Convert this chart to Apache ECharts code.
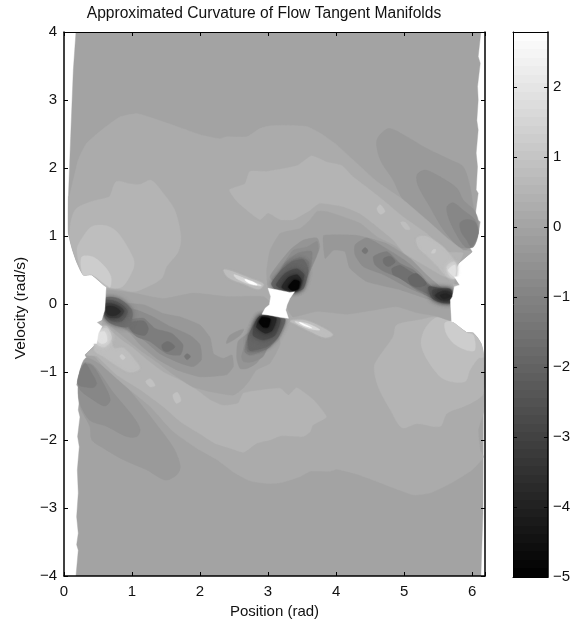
<!DOCTYPE html>
<html><head><meta charset="utf-8"><style>html,body{margin:0;padding:0;background:#fff}#c{width:581px;height:624px}</style>
<script src="https://cdn.jsdelivr.net/npm/echarts@6/dist/echarts.min.js"></script></head><body><div id="c"></div><script>
const xMax=6.19, barMin=-5, barMax=2.786, barSteps=64;
// Contour regions in data units: position (rad), velocity (rad/s)
const fieldEdge=[[.176,4],[.137,3.44],[.098,2.46],[.065,1.58],[.064,1.04],[.127,.79],[.186,.62],[.284,.43],[.407,.43],[.618,.25],[.6,-.09],[.554,-.235],[.48,-.27],[.56,-.33],[.505,-.43],[.48,-.58],[.31,-.75],[.343,-.82],[.235,-.97],[.186,-1.19],[.245,-1.26],[.21,-1.56],[.235,-1.66],[.2,-1.95],[.225,-2.1],[.196,-2.44],[.21,-2.78],[.186,-3.13],[.21,-3.37],[.186,-3.54],[.21,-3.62],[.176,-4],[6.13,-4],[6.15,-3.37],[6.16,-3.08],[6.17,-.78],[6.13,-.58],[6.02,-.43],[5.92,-.42],[5.7,-.26],[5.68,.06],[5.71,.108],[5.74,.255],[5.82,.28],[5.74,.4],[5.77,.57],[6.0,.77],[5.96,.84],[6.09,1.04],[6.12,1.21],[6.04,1.26],[6.09,1.63],[6.06,1.68],[6.08,2.02],[6.06,2.22],[6.09,2.56],[6.07,2.7],[6.09,3.0],[6.08,3.2],[6.12,3.54],[6.09,3.64],[6.13,4]];
const lobeUp1=[[4.6,2.41],[4.77,2.58],[4.99,2.49],[5.33,2.29],[5.68,2.12],[5.87,2.02],[5.97,1.73],[6.02,1.43],[6.09,1.24],[6.09,1.04],[5.97,.84],[5.87,.79],[5.67,.94],[5.33,1.24],[4.99,1.53],[4.84,1.82],[4.65,2.12]];
const lobeUp2=[[5.19,1.9],[5.31,1.97],[5.53,1.87],[5.78,1.7],[5.87,1.53],[6.04,1.36],[6.09,1.04],[5.97,.84],[5.82,.84],[5.58,1.09],[5.38,1.43],[5.21,1.73]];
const lobeUp3=[[5.63,1.43],[5.72,1.49],[5.87,1.38],[6.04,1.24],[6.09,1.04],[6.02,.84],[5.9,.84],[5.75,1.06],[5.65,1.28]];
const lobeUp4=[[5.82,1.19],[5.9,1.24],[6.04,1.21],[6.09,1.04],[5.99,.84],[5.92,.94],[5.84,1.06]];
const lobeLo1=[[1.49,-2.59],[1.66,-2.51],[1.71,-2.39],[1.63,-2.15],[1.46,-1.9],[.92,-1.22],[.58,-.92],[.31,-.8],[.21,-1.22],[.235,-1.51],[.38,-1.8],[.41,-2.0],[.58,-2.12],[.87,-2.29],[1.22,-2.44]];
const lobeLo2=[[1.12,-1.85],[1.07,-1.95],[.92,-1.95],[.63,-1.8],[.38,-1.71],[.235,-1.46],[.21,-1.17],[.28,-.87],[.43,-.9],[.73,-1.31],[1.02,-1.66]];
const lobeLo3=[[.68,-1.41],[.6,-1.5],[.43,-1.41],[.235,-1.26],[.21,-1.12],[.28,-.9],[.41,-.9],[.58,-1.17]];
const lobeLo4=[[.48,-1.17],[.43,-1.23],[.21,-1.19],[.21,-1.07],[.31,-.87],[.41,-1.02]];
const midPlateau=[[.08,1.58],[.21,2.12],[.33,2.36],[.58,2.58],[.82,2.75],[1.07,2.8],[1.31,2.73],[1.66,2.61],[2.0,2.49],[2.29,2.43],[2.39,2.46],[2.69,2.46],[2.88,2.58],[3.03,2.62],[3.27,2.63],[3.57,2.61],[3.77,2.51],[4.01,2.34],[4.25,2.12],[4.6,1.8],[4.99,1.53],[5.33,1.24],[5.67,.94],[5.87,.79],[6.0,.77],[5.77,.57],[5.74,.4],[5.74,.255],[5.71,.108],[5.68,.06],[5.7,-.26],[5.92,-.42],[6.02,-.43],[6.13,-.58],[6.17,-.78],[6.17,-1.58],[6.09,-1.85],[6.12,-2.15],[6.17,-2.25],[6.0,-2.44],[5.68,-2.64],[5.38,-2.78],[5.14,-2.81],[4.94,-2.74],[4.6,-2.61],[4.3,-2.5],[4.01,-2.43],[3.91,-2.46],[3.62,-2.46],[3.47,-2.54],[3.18,-2.63],[2.98,-2.64],[2.73,-2.6],[2.49,-2.47],[2.25,-2.29],[1.95,-2.12],[1.61,-1.88],[1.27,-1.51],[.92,-1.22],[.58,-.92],[.43,-.75],[.31,-.75],[.48,-.58],[.5,-.43],[.555,-.235],[.6,-.09],[.618,.25],[.407,.43],[.284,.43],[.186,.62],[.127,.79],[.064,1.04],[.065,1.58]];
const plateauLeft=[[.68,1.6],[.77,1.8],[.97,1.77],[1.12,1.76],[1.28,1.82],[1.46,1.63],[1.63,1.38],[1.72,.99],[1.68,.77],[1.51,.55],[1.44,.38],[1.22,.25],[1.02,.18],[.77,.23],[.63,.25],[.41,.43],[.28,.43],[.13,.79],[.08,1.04],[.16,1.38],[.38,1.5],[.65,1.57]];
const plateauRight=[[4.97,-1.82],[5.19,-1.76],[5.53,-1.8],[5.63,-1.61],[5.87,-1.51],[6.07,-1.41],[6.17,-1.31],[6.17,-.78],[6.13,-.58],[6.02,-.43],[5.92,-.42],[5.7,-.26],[5.48,-.19],[5.19,-.24],[4.89,-.31],[4.84,-.48],[4.65,-.75],[4.56,-.92],[4.62,-1.22],[4.8,-1.56]];
const domeLeft=[[.41,1.14],[.63,1.15],[.8,1.04],[1.02,.67],[1.02,.52],[.85,.25],[.63,.25],[.41,.43],[.28,.43],[.19,.8],[.28,.99]];
const domeRight=[[5.25,-.58],[5.33,-.8],[5.53,-1.07],[5.68,-1.14],[5.9,-1.14],[5.97,-.97],[6.09,-.8],[6.17,-.78],[6.13,-.58],[6.02,-.43],[5.92,-.42],[5.7,-.26],[5.48,-.2],[5.31,-.36]];
const capLeft=[[.26,.69],[.43,.69],[.6,.55],[.69,.4],[.68,.25],[.62,.28],[.41,.43],[.28,.43]];
const capRight=[[5.6,-.28],[5.62,-.43],[5.73,-.58],[5.92,-.68],[6.04,-.68],[6.02,-.46],[5.92,-.42],[5.7,-.26]];
const wedgeUp=[[2.43,1.68],[2.66,1.77],[2.73,1.95],[2.98,1.95],[3.27,2.0],[3.44,2.04],[3.64,2.18],[3.86,2.09],[4.08,2.04],[4.25,1.87],[4.5,1.68],[4.69,1.53],[4.99,1.28],[5.33,1.04],[5.63,.77],[5.87,.75],[5.75,.5],[5.6,.4],[5.33,.55],[5.0,.75],[4.84,.94],[4.6,1.14],[4.35,1.33],[4.11,1.43],[3.76,1.48],[3.62,1.38],[3.37,1.24],[3.18,1.24],[3.0,1.34],[2.88,1.24],[2.55,1.5]];
const wedgeLo=[[.55,-.31],[.63,-.33],[.73,-.43],[.85,-.53],[1.02,-.65],[1.22,-.82],[1.46,-1.0],[1.71,-1.12],[1.95,-1.26],[2.15,-1.41],[2.34,-1.49],[2.56,-1.46],[2.64,-1.31],[2.93,-1.26],[3.18,-1.24],[3.3,-1.34],[3.42,-1.23],[3.67,-1.41],[3.86,-1.66],[3.66,-1.78],[3.62,-1.88],[3.52,-1.95],[3.18,-1.94],[3.03,-2.0],[2.83,-2.05],[2.64,-2.18],[2.44,-2.12],[2.22,-2.05],[1.95,-1.88],[1.71,-1.73],[1.46,-1.51],[1.12,-1.26],[.77,-1.04],[.48,-.77],[.33,-.75],[.48,-.58],[.5,-.43]];
const bandUp2=[[3.03,.79],[3.18,1.04],[3.47,1.11],[3.62,1.24],[3.72,1.36],[3.86,1.36],[4.11,1.28],[4.35,1.19],[4.6,.99],[4.89,.84],[5.14,.6],[5.33,.4],[5.58,.23],[5.73,.21],[5.7,.01],[5.68,-.24],[5.48,-.18],[5.19,-.13],[4.89,-.04],[4.5,-.1],[4.16,-.15],[3.72,-.11],[3.37,-.19],[3.3,-.1],[3.2,.2],[3.0,.25],[2.98,.5]];
const bandLo2=[[.6,.2],[1.02,.16],[1.46,.08],[1.9,.16],[2.39,.11],[2.93,.11],[3.05,0],[3.1,-.3],[3.18,-.58],[3.03,-.87],[2.83,-.97],[2.73,-1.12],[2.64,-1.23],[2.49,-1.34],[2.15,-1.29],[1.9,-1.22],[1.61,-1.04],[1.36,-.85],[1.12,-.68],[.9,-.5],[.73,-.36],[.6,-.24]];
const bandUpA=[[3.82,1.01],[4.3,1.01],[4.74,.89],[5.09,.67],[5.33,.43],[5.58,.21],[5.7,.11],[5.68,-.01],[5.33,.08],[4.94,.21],[4.45,.33],[4.2,.53],[4.13,.77],[3.96,.79],[3.84,.67],[3.81,.92]];
const bandLoA=[[1.17,-.01],[1.46,-.14],[1.71,-.19],[2.0,-.31],[2.15,-.5],[2.2,-.73],[2.34,-.8],[2.47,-.75],[2.49,-.92],[2.39,-1.04],[2.0,-1.07],[1.66,-.97],[1.36,-.8],[1.12,-.6],[.97,-.43],[.8,-.3],[.7,0]];
const bandUpB=[[4.28,.87],[4.45,.97],[4.7,.84],[5.0,.65],[5.24,.45],[5.43,.23],[5.68,.13],[5.68,.01],[5.36,.11],[5.04,.25],[4.7,.43],[4.4,.55],[4.28,.72]];
const bandLoB=[[1.07,-.09],[1.31,-.19],[1.56,-.33],[1.85,-.46],[2.0,-.6],[2.02,-.82],[1.9,-.92],[1.71,-.87],[1.41,-.73],[1.17,-.53],[.97,-.41],[.85,-.3],[.8,-.05]];
const bandUpC=[[4.55,.7],[4.75,.77],[4.94,.6],[5.14,.5],[5.33,.32],[5.53,.16],[5.68,.11],[5.68,.02],[5.43,.08],[5.18,.21],[4.94,.38],[4.7,.48],[4.57,.58]];
const bandLoC=[[.95,-.24],[1.17,-.21],[1.34,-.36],[1.58,-.43],[1.75,-.6],[1.71,-.75],[1.51,-.73],[1.26,-.55],[1.07,-.48],[.95,-.36]];
const bandUpD=[[4.82,.52],[4.94,.57],[5.09,.48],[5.28,.35],[5.41,.23],[5.68,.11],[5.68,.03],[5.43,.11],[5.18,.23],[4.94,.38],[4.84,.43]];
const bandUpD2=[[4.7,.67],[4.8,.7],[4.87,.62],[4.77,.55],[4.7,.6]];
const bandLoD=[[.95,-.28],[1.17,-.25],[1.24,-.36],[1.19,-.46],[1.04,-.43],[.97,-.36]];
const bandLoD2=[[1.44,-.6],[1.53,-.55],[1.63,-.63],[1.53,-.7],[1.46,-.68]];
const bandUpE=[[5.06,.38],[5.18,.45],[5.33,.3],[5.23,.25],[5.11,.28]];
const spotUp=[[4.38,.78],[4.43,.83],[4.47,.78],[4.43,.74]];
const spotLo=[[1.77,-.77],[1.81,-.73],[1.86,-.77],[1.81,-.82]];
const coreUp=[[[5.36,.25],[5.53,.23],[5.69,.21],[5.69,.02],[5.43,.07]],[[5.42,.2],[5.58,.21],[5.69,.19],[5.69,.04],[5.46,.08]],[[5.46,.13],[5.58,.19],[5.69,.16],[5.69,.07],[5.55,.06]],[[5.53,.13],[5.63,.15],[5.68,.11],[5.58,.08]]];
const coreUpLevels=[-2.4,-2.9,-3.5,-3.9];
const coreLo=[[[.6,.08],[.8,.08],[1.0,-.1],[.95,-.33],[.72,-.3],[.6,-.2]],[[.6,.05],[.78,.03],[.93,-.1],[.85,-.25],[.66,-.22]],[[.6,0],[.76,-.01],[.88,-.1],[.8,-.2],[.63,-.18]],[[.62,-.04],[.74,-.04],[.83,-.11],[.75,-.17],[.64,-.15]]];
const coreLoLevels=[-1.6,-2.2,-3,-3.7];
const sectorLevels=[-.45,-.7,-1.0,-1.35,-1.9,-2.7,-3.8,-4.85];
const sectorUp=[[[3.03,.4],[3.32,.79],[3.52,.94],[3.72,.97],[3.76,.84],[3.67,.6],[3.52,.3],[3.42,.18],[3.18,.25]],[[3.18,.5],[3.37,.79],[3.57,.84],[3.72,.92],[3.74,.79],[3.62,.5],[3.52,.3],[3.42,.21],[3.13,.3]],[[3.25,.6],[3.45,.75],[3.64,.77],[3.62,.55],[3.49,.3],[3.4,.21],[3.12,.25]],[[3.25,.57],[3.47,.68],[3.6,.62],[3.57,.42],[3.5,.22],[3.1,.23]],[[3.05,.3],[3.18,.48],[3.35,.62],[3.52,.65],[3.59,.5],[3.52,.23],[3.4,.18],[3.1,.22]],[[3.12,.28],[3.25,.45],[3.42,.52],[3.53,.43],[3.47,.23],[3.4,.18],[3.23,.21]],[[3.2,.25],[3.3,.39],[3.43,.43],[3.49,.35],[3.45,.22],[3.37,.2],[3.25,.21]],[[3.3,.25],[3.38,.35],[3.46,.33],[3.44,.22],[3.36,.2]]];
const sectorLo=[[[2.54,-.8],[2.56,-.55],[2.73,-.41],[2.83,-.31],[3.03,-.28],[3.08,-.43],[2.93,-.73],[2.83,-.87],[2.69,-.95],[2.59,-.95]],[[2.61,-.77],[2.69,-.53],[2.83,-.36],[3.03,-.31],[3.05,-.48],[2.93,-.77],[2.78,-.85],[2.64,-.85]],[[2.66,-.7],[2.72,-.46],[2.86,-.28],[3.18,-.3],[3.1,-.5],[2.93,-.68],[2.73,-.75]],[[2.7,-.7],[2.72,-.46],[2.84,-.25],[3.22,-.26],[3.15,-.48],[2.98,-.66]],[[2.88,-.18],[3.25,-.22],[3.15,-.48],[2.98,-.63],[2.73,-.68],[2.71,-.48],[2.81,-.28]],[[2.88,-.18],[3.18,-.22],[3.1,-.46],[2.93,-.53],[2.78,-.46],[2.81,-.28]],[[2.91,-.18],[3.12,-.21],[3.06,-.39],[2.96,-.43],[2.83,-.34]],[[2.91,-.2],[3.03,-.22],[3,-.34],[2.93,-.34],[2.87,-.27]]];
const sectorBlur=[0,0,1,2,4,5,5,3];
const stripeLo=[[2.39,-.58],[2.44,-.46],[2.64,-.37],[2.59,-.46]];
const glowUp=[[[5.19,.97],[5.33,.99],[5.53,.87],[5.65,.75],[5.77,.57],[5.75,.38],[5.63,.4],[5.5,.55],[5.33,.72],[5.21,.84]],[[5.63,.55],[5.73,.62],[5.77,.57],[5.75,.38],[5.68,.4]],[[5.65,.5],[5.75,.57],[5.75,.4],[5.7,.43]]];
const glowLo=[[[.45,-.68],[.5,-.43],[.63,-.33],[.73,-.65],[.87,-.65],[1.02,-.8],[1.11,-.95],[.97,-1.0],[.77,-.9],[.58,-.77]],[[.48,-.58],[.5,-.41],[.63,-.36],[.7,-.5],[.6,-.63]],[[.5,-.43],[.6,-.41],[.63,-.55],[.55,-.58],[.49,-.53]]];
const glowLevels=[.8,1.26,1.87];
const glowBlur=[2,4,4];
const flecks=[[[5.4,.75],[5.43,.8],[5.47,.8],[5.45,.75]],[[4.6,1.4],[4.65,1.46],[4.72,1.36],[4.65,1.32]],[[4.95,1.2],[5.02,1.2],[5.09,1.1],[5.02,1.1]],[[.82,-.77],[.85,-.74],[.9,-.79],[.86,-.82]],[[1.2,-1.14],[1.27,-1.1],[1.34,-1.2],[1.27,-1.22]],[[1.6,-1.34],[1.67,-1.3],[1.72,-1.42],[1.65,-1.46]]];
const fleckLevels=[1.2,.9,.8,1.2,.9,.9];
const nubs=[[[5.72,.29],[5.82,.28],[5.8,.24],[5.72,.24]],[[.48,-.27],[.56,-.25],[.56,-.3],[.48,-.3]]];
const streaks=[[[2.35,.5],[2.49,.47],[2.74,.37],[2.93,.29],[2.86,.22],[2.64,.3],[2.42,.39]],[[2.5,.43],[2.74,.34],[2.9,.27],[2.74,.29],[2.55,.37]],[[2.66,.36],[2.78,.32],[2.84,.28],[2.72,.31]],[[3.33,-.25],[3.52,-.24],[3.72,-.31],[3.95,-.45],[3.84,-.49],[3.62,-.4],[3.42,-.3]],[[3.4,-.26],[3.58,-.29],[3.76,-.38],[3.6,-.36],[3.46,-.3]],[[3.46,-.27],[3.58,-.32],[3.64,-.35],[3.52,-.31]]];
const streakLevels=[.8,1.6,2.786,.8,1.6,2.786];
const notchLeft=[[.618,.25],[.6,-.09],[.554,-.235],[.48,-.27],[.56,-.33],[.505,-.43],[.48,-.58],[.2,-.58],[.2,.25]];
const notchRight=[[5.7,-.26],[5.68,.06],[5.71,.108],[5.74,.255],[5.82,.28],[5.74,.4],[6.0,.4],[6.0,-.26]];
const hole=[[3.0,.23],[3.13,.21],[3.32,.17],[3.39,.18],[3.32,.08],[3.28,-.01],[3.26,-.09],[3.3,-.21],[3.2,-.2],[3.0,-.16],[2.91,-.15],[2.96,-.06],[3.02,-.01],[3.04,.11]];

const regions=[];
const add=(level,pts,smooth,blur)=>regions.push({level,pts,smooth:smooth===undefined?0.3:smooth,blur:blur||0});
add(-.02,fieldEdge,0);
add(-.3,lobeUp1);add(-.3,lobeLo1);add(-.57,lobeUp2);add(-.57,lobeLo2);add(-.88,lobeUp3);add(-.88,lobeLo3);add(-1.18,lobeUp4);add(-1.18,lobeLo4);
add(.22,midPlateau,0.15);
add(.5,plateauLeft);add(.5,plateauRight);add(.8,domeLeft);add(.8,domeRight);add(1.25,capLeft);add(1.25,capRight);
add(.5,wedgeUp,.15);add(.5,wedgeLo,.15);
nubs.forEach(n=>add(.5,n,0));
add(-.02,bandUp2,.15);add(-.02,bandLo2,.15);add(-.36,bandUpA,.15);add(-.36,bandLoA,.15);
sectorLevels.forEach((l,i)=>{add(l,sectorUp[i],.2,sectorBlur[i]);add(l,sectorLo[i],.2,sectorBlur[i]);});
add(-.45,stripeLo);
add(-.72,bandUpB,.2);add(-.72,bandLoB,.2);add(-1.18,bandUpC,.2);add(-1.18,bandLoC,.2);add(-1.58,bandUpD,.2);add(-1.58,bandUpD2);add(-1.58,bandLoD);add(-1.58,bandLoD2);add(-1.9,bandUpE);add(-1.4,spotUp);add(-1.4,spotLo);
coreUp.forEach((p,i)=>add(coreUpLevels[i],p,.3,5));coreLo.forEach((p,i)=>add(coreLoLevels[i],p,.3,5));
glowUp.forEach((p,i)=>add(glowLevels[i],p,.3,glowBlur[i]));glowLo.forEach((p,i)=>add(glowLevels[i],p,.3,glowBlur[i]));
flecks.forEach((p,i)=>add(fleckLevels[i],p));
streaks.forEach((p,i)=>add(streakLevels[i],p,.3,i%3===0?2:1));
add(2.786,notchLeft,0);add(2.786,notchRight,0);
add(2.786,hole,0);

const bands=[];
for(let i=0;i<barSteps;i++){bands.push([barMin+(barMax-barMin)*i/barSteps,barMin+(barMax-barMin)*(i+1)/barSteps]);}

const font='"Liberation Sans",Arial,sans-serif', ink='#000';
const line=(w)=>({show:true,onZero:false,lineStyle:{color:ink,width:w||1}});
const tick={show:true,inside:true,length:4,lineStyle:{color:ink,width:1}};
const lab={color:'#111',fontFamily:font,fontSize:15};
const intOnly=v=>Number.isInteger(v)?String(v).replace('-','\u2212'):'';
const chart=echarts.init(document.getElementById('c'),null,{renderer:'canvas'});
chart.setOption({
 animation:false,backgroundColor:'#fff',
 title:{text:'Approximated Curvature of Flow Tangent Manifolds',left:259,top:1,textAlign:'center',textStyle:{fontFamily:font,fontSize:15.6,fontWeight:'normal',color:'#111'}},
 grid:[{left:64,top:32,width:421,height:544},{left:513,top:32,width:35,height:545}],
 xAxis:[
  {type:'value',gridIndex:0,z:10,min:0,max:xMax,interval:1,position:'bottom',axisLine:line(1.5),axisTick:tick,splitLine:{show:false},axisLabel:{...lab,margin:8,formatter:intOnly},name:'Position (rad)',nameLocation:'middle',nameGap:26,nameTextStyle:{fontFamily:font,fontSize:15,color:'#111'}},
  {type:'value',gridIndex:0,z:10,min:0,max:xMax,interval:1,position:'top',axisLine:line(1),axisTick:tick,splitLine:{show:false},axisLabel:{show:false}},
  {type:'value',gridIndex:1,z:10,min:0,max:1,position:'bottom',axisLine:line(1),axisTick:{show:false},splitLine:{show:false},axisLabel:{show:false}},
  {type:'value',gridIndex:1,z:10,min:0,max:1,position:'top',axisLine:line(1),axisTick:{show:false},splitLine:{show:false},axisLabel:{show:false}}
 ],
 yAxis:[
  {type:'value',gridIndex:0,z:10,min:-4,max:4,interval:1,position:'left',axisLine:line(1.5),axisTick:tick,splitLine:{show:false},axisLabel:{...lab,margin:7,formatter:intOnly},name:'Velocity (rad/s)',nameLocation:'middle',nameGap:32,nameTextStyle:{fontFamily:font,fontSize:15.5,color:'#111',padding:[0,8,0,0]}},
  {type:'value',gridIndex:0,z:10,min:-4,max:4,interval:1,position:'right',axisLine:line(1.5),axisTick:tick,splitLine:{show:false},axisLabel:{show:false}},
  {type:'value',gridIndex:1,z:10,min:barMin,max:barMax,interval:1,position:'left',axisLine:line(1),axisTick:tick,splitLine:{show:false},axisLabel:{show:false}},
  {type:'value',gridIndex:1,z:10,min:barMin,max:barMax,interval:1,position:'right',axisLine:line(1.5),axisTick:tick,splitLine:{show:false},axisLabel:{...lab,margin:5,formatter:intOnly}}
 ],
 visualMap:{show:false,min:barMin,max:barMax,dimension:1,seriesIndex:[0,1],inRange:{color:['#000000','#ffffff']}},
 series:[
  {type:'custom',coordinateSystem:'cartesian2d',xAxisIndex:0,yAxisIndex:0,silent:true,clip:true,
   data:regions.map((r,i)=>[i,r.level]),
   renderItem(params,api){const r=regions[api.value(0)];const c=api.visual('color');
     const style={fill:c,stroke:c,lineWidth:.4};
     if(r.blur){style.shadowBlur=r.blur;style.shadowColor=c;}
     return {type:'polygon',shape:{points:r.pts.map(p=>api.coord(p)),smooth:r.smooth},style};}},
  {type:'custom',coordinateSystem:'cartesian2d',xAxisIndex:2,yAxisIndex:2,silent:true,
   data:bands.map((b,i)=>[i,(b[0]+b[1])/2]),
   renderItem(params,api){const b=bands[api.value(0)];const c=api.visual('color');
     const p0=api.coord([0,b[1]]),p1=api.coord([1,b[0]]);
     const y0=Math.round(p0[1]),y1=Math.round(p1[1]);
     return {type:'rect',shape:{x:p0[0],y:y0,width:p1[0]-p0[0],height:y1-y0},style:{fill:c}};}}
 ]
});
</script></body></html>
